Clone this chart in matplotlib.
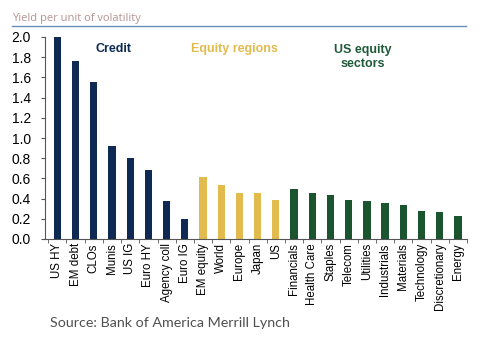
import matplotlib
matplotlib.use("Agg")
import matplotlib.pyplot as plt
from matplotlib.lines import Line2D

credit_labels = ["US HY", "EM debt", "CLOs", "Munis", "US IG", "Euro HY", "Agency coll", "Euro IG"]
credit_values = [2.00, 1.76, 1.55, 0.92, 0.80, 0.68, 0.38, 0.20]

region_labels = ["EM equity", "World", "Europe", "Japan", "US"]
region_values = [0.61, 0.53, 0.46, 0.46, 0.39]

sector_labels = ["Financials", "Health Care", "Staples", "Telecom", "Utilities",
                 "Industrials", "Materials", "Technology", "Discretionary", "Energy"]
sector_values = [0.50, 0.46, 0.44, 0.39, 0.38, 0.36, 0.34, 0.28, 0.27, 0.23]

navy = "#0e2a52"
gold = "#e2bb4f"
green = "#1b5530"

labels = credit_labels + region_labels + sector_labels
values = credit_values + region_values + sector_values
colors = [navy] * len(credit_values) + [gold] * len(region_values) + [green] * len(sector_values)

W, H = 480, 347
fig = plt.figure(figsize=(W / 100, H / 100), dpi=100)
fig.patch.set_facecolor("white")

ax = fig.add_axes([45 / W, (H - 239) / H, (467 - 45) / W, (239 - 37) / H])
x = list(range(len(values)))
ax.bar(x, values, width=0.4, color=colors, zorder=2)

ax.set_ylim(0, 2.0)
ax.set_xlim(-0.68, len(values) - 1 + 0.44)
ax.set_yticks([i / 10 for i in range(0, 21, 2)])
ax.set_yticklabels([f"{i / 10:.1f}" for i in range(0, 21, 2)],
                   fontsize=10, family="Liberation Sans", color="#000000")

ax.set_xticks(x)
ax.set_xticklabels(labels, rotation=90, fontsize=8.3, family="Liberation Sans", color="#000000")
ax.tick_params(axis="x", length=0, pad=3)
ax.set_xticks([i + 0.5 for i in range(-1, len(values))], minor=True)
ax.tick_params(axis="x", which="minor", length=3, direction="out", color="#555555")
ax.tick_params(axis="y", length=3, direction="out", color="#555555", pad=7)

for side in ["top", "right"]:
    ax.spines[side].set_visible(False)
for side in ["left", "bottom"]:
    ax.spines[side].set_color("#555555")
    ax.spines[side].set_linewidth(0.8)

ax.text(113 / W, 1 - 49 / H, "Credit", transform=fig.transFigure, ha="center", va="center",
        fontsize=9, fontweight="bold", color=navy, family="Liberation Sans")
ax.text(234 / W, 1 - 49 / H, "Equity regions", transform=fig.transFigure, ha="center", va="center",
        fontsize=9, fontweight="bold", color=gold, family="Liberation Sans")
ax.text(363 / W, 1 - 57 / H, "US equity\nsectors", transform=fig.transFigure, ha="center", va="center",
        fontsize=9, fontweight="bold", color="#1f5a3a", family="Liberation Sans", linespacing=1.15)

fig.text(12 / W, 1 - 18 / H, "Yield per unit of volatility", ha="left", va="center",
         fontsize=8, color="#b59494", family="Open Sans")
fig.add_artist(Line2D([12 / W, 466 / W], [1 - 25.5 / H, 1 - 25.5 / H],
                      transform=fig.transFigure, color="#6a8cbb", linewidth=1.0))

fig.text(50 / W, 1 - 323 / H, "Source: Bank of America Merrill Lynch", ha="left", va="center",
         fontsize=10.3, color="#505050", family="Lato")

fig.savefig("out.png", dpi=100)
